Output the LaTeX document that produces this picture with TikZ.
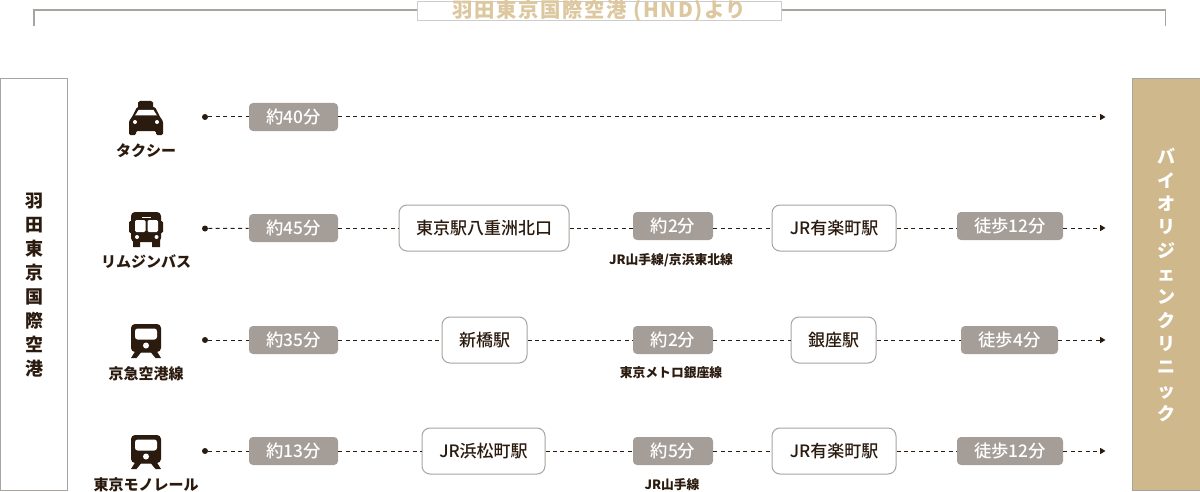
\documentclass[tikz,border=0pt]{standalone}
\usepackage{fontspec}
\usepackage{xcolor}
\setmainfont{Noto Sans CJK JP}
\newfontfamily\mediumcjk{Noto Sans CJK JP Medium}
\usetikzlibrary{arrows.meta}
\definecolor{ink}{HTML}{2b1a0e}
\definecolor{pillgray}{HTML}{a59d97}
\definecolor{framegray}{HTML}{a8a4a0}
\definecolor{gold}{HTML}{cfb88c}
\definecolor{goldtext}{HTML}{dcc79e}
\tikzset{
	pill/.style={fill=pillgray,rounded corners=3pt,minimum height=21pt,inner sep=0pt,text=white,font=\mediumcjk\fontsize{13}{15}\selectfont},
	stop/.style={draw=framegray,line width=0.75pt,rounded corners=6pt,fill=white,minimum height=34.5pt,inner sep=0pt,text=ink,font=\mediumcjk\fontsize{12.75}{15}\selectfont},
	mode/.style={inner sep=0pt,text=ink,font=\fontsize{11.25}{13}\bfseries\selectfont},
	via/.style={inner sep=0pt,text=ink,font=\fontsize{9.6}{11}\bfseries\selectfont},
	startdot/.style={circle,fill=ink,inner sep=0pt,minimum size=4.5pt},
	leg/.style={draw=ink,line width=0.75pt,dash pattern=on 3pt off 2.6pt},
	legend/.style={leg,-{Triangle[length=4pt,width=4.5pt]}},
	trainicon/.pic={
		\fill[ink,rounded corners=3pt] (-15,-17) rectangle (15,11);
		\fill[white,rounded corners=2pt] (-11,-12.5) rectangle (11,-1.5);
		\fill[white] (0,4.5) circle (3);
		\fill[ink] (-10,9) -- (-15,17) -- (-9.5,17) -- (-5,11.5) -- (5,11.5) -- (9.5,17) -- (15,17) -- (10,9) -- cycle;
	},
}
\begin{document}
\begin{tikzpicture}[x=0.75pt,y=0.75pt,yscale=-1,xscale=1]
	\useasboundingbox (0,0) rectangle (1200,492);
	% header
	\node[draw=black!20,fill=white,line width=0.75pt,minimum width=273pt,minimum height=14.25pt,inner sep=0pt] (hndbox) at (599.5,11.5) {};
	\node[inner sep=0pt,text=goldtext,font=\fontsize{15.3}{17}\bfseries\selectfont\addfontfeature{LetterSpace=8}] (hndtitle) at (599.5,11) {羽田東京国際空港 (HND)より};
	\coordinate (hndleft) at (34,26);
	\coordinate (hndright) at (1165.5,26);
	\coordinate (hndboxl) at (417,10);
	\coordinate (hndboxr) at (782,10);
	\draw[framegray,line width=1.2pt] (hndleft) |- (hndboxl);
	\draw[framegray,line width=1.2pt] (hndright) |- (hndboxr);
	% end boxes
	\node[draw=framegray,line width=0.75pt,minimum width=50pt,minimum height=309pt,inner sep=0pt] (haneda) at (34,284.5) {};
	\node[inner sep=0pt,align=center,text=ink,font=\fontsize{13.5}{18}\bfseries\selectfont] (hanedatext) at (34,285) {羽\\田\\東\\京\\国\\際\\空\\港};
	\node[draw=framegray,fill=gold,line width=0.75pt,minimum width=51pt,minimum height=309pt,inner sep=0pt] (clinic) at (1166,284.5) {};
	\node[inner sep=0pt,align=center,text=white,font=\fontsize{13.5}{17.5}\bfseries\selectfont] (clinictext) at (1166,285) {バ\\イ\\オ\\リ\\ジ\\ェ\\ン\\ク\\リ\\ニ\\ッ\\ク};
	% taxi
	\fill[ink] (138,107) -- (138,102.5) -- (140,101) -- (151,101) -- (153,102.5) -- (153,107) -- cycle;
	\fill[ink,rounded corners=1pt] (129,135) -- (129,121) -- (132,117) -- (137,107) -- (155,107) -- (160,117) -- (163,121) -- (163,135) -- (156,135) -- (156,131) -- (136,131) -- (136,135) -- cycle;
	\fill[white] (138.5,110) -- (153.5,110) -- (157,115.5) -- (135,115.5) -- cycle;
	\fill[white] (135,122) circle (2) (157,122) circle (2);
	\node[mode] (taxi) at (146,151) {タクシー};
	\node[startdot] (start1) at (205,117) {};
	\node[pill,minimum width=66.75pt] (time1) at (293.5,117) {約40分};
	\coordinate (end1) at (1105.5,117);
	\draw[leg] (start1) -- (time1);
	\draw[legend] (time1) -- (end1);
	% bus
	\fill[ink,rounded corners=3pt] (131,212) rectangle (161,242);
	\fill[ink] (133,240) rectangle (140,247) (152,240) rectangle (160,247);
	\fill[ink,rounded corners=1pt] (129,221) rectangle (133,233) (159,221) rectangle (163,233);
	\fill[white,rounded corners=1pt] (135,220) rectangle (145.5,232) (147.5,220) rectangle (158,232);
	\fill[white] (142,216.5) rectangle (151,218);
	\fill[white] (137,237) circle (2) (156.5,237) circle (2);
	\node[mode] (limo) at (146,262) {リムジンバス};
	\node[startdot] (start2) at (205,228.5) {};
	\node[pill,minimum width=66.75pt] (time2a) at (293.5,228) {約45分};
	\node[stop,minimum width=127.5pt] (yaesu) at (484,228) {東京駅八重洲北口};
	\node[pill,minimum width=60pt] (time2b) at (673,226) {約2分};
	\node[via] (line2) at (671,260) {JR山手線/京浜東北線};
	\node[stop,minimum width=93pt] (yuraku2) at (834,228) {JR有楽町駅};
	\node[pill,minimum width=79.5pt] (walk2) at (1010,226) {徒歩12分};
	\coordinate (end2) at (1105.5,228);
	\draw[leg] (start2) -- (time2a);
	\draw[leg] (time2a) -- (yaesu);
	\draw[leg] (yaesu) -- (yaesu -| time2b.west);
	\draw[leg] (yuraku2 -| time2b.east) -- (yuraku2);
	\draw[leg] (yuraku2) -- (yuraku2 -| walk2.west);
	\draw[legend] (end2 -| walk2.east) -- (end2);
	% keikyu
	\pic[yscale=-1] at (146,341) {trainicon};
	\node[mode] (keikyu) at (146,374) {京急空港線};
	\node[startdot] (start3) at (205,340) {};
	\node[pill,minimum width=66.75pt] (time3a) at (293.5,340) {約35分};
	\node[stop,minimum width=63.75pt] (shimbashi) at (484.5,340) {新橋駅};
	\node[pill,minimum width=60pt] (time3b) at (673,340) {約2分};
	\node[via] (line3) at (671,373) {東京メトロ銀座線};
	\node[stop,minimum width=63.75pt] (ginza) at (833.5,340) {銀座駅};
	\node[pill,minimum width=72.75pt] (walk3) at (1009.5,340) {徒歩4分};
	\coordinate (end3) at (1105.5,340);
	\draw[leg] (start3) -- (time3a);
	\draw[leg] (time3a) -- (shimbashi);
	\draw[leg] (shimbashi) -- (time3b);
	\draw[leg] (time3b) -- (ginza);
	\draw[leg] (ginza) -- (walk3);
	\draw[legend] (walk3) -- (end3);
	% monorail
	\pic[yscale=-1] at (146,452) {trainicon};
	\node[mode] (mono) at (146,485) {東京モノレール};
	\node[startdot] (start4) at (205,451) {};
	\node[pill,minimum width=66.75pt] (time4a) at (293.5,451) {約13分};
	\node[stop,minimum width=92.25pt] (hamamatsu) at (483.5,451) {JR浜松町駅};
	\node[pill,minimum width=60pt] (time4b) at (673,451) {約5分};
	\node[via] (line4) at (672,484.5) {JR山手線};
	\node[stop,minimum width=93pt] (yuraku4) at (834,451) {JR有楽町駅};
	\node[pill,minimum width=79.5pt] (walk4) at (1010,451) {徒歩12分};
	\coordinate (end4) at (1105.5,451);
	\draw[leg] (start4) -- (time4a);
	\draw[leg] (time4a) -- (hamamatsu);
	\draw[leg] (hamamatsu) -- (time4b);
	\draw[leg] (time4b) -- (yuraku4);
	\draw[leg] (yuraku4) -- (walk4);
	\draw[legend] (walk4) -- (end4);
\end{tikzpicture}
\end{document}
